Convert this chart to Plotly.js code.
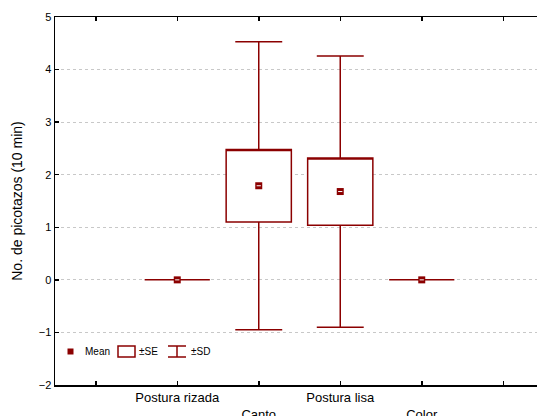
<!DOCTYPE html>
<html>
<head>
<meta charset="utf-8">
<script src="https://cdn.plot.ly/plotly-3.0.1.min.js"></script>
<style>
  html, body { margin: 0; padding: 0; overflow: hidden; background: #fff; }
  #chart { width: 560px; height: 430px; }
</style>
</head>
<body>
<div id="chart"></div>
<script>
// ---- data ----
const categories = ['Postura rizada', 'Canto', 'Postura lisa', 'Color'];
const means = [0, 1.79, 1.68, 0];
const se = [0, 0.69, 0.64, 0];
const sd = [0, 2.74, 2.58, 0];
const yTicks = [-2, -1, 0, 1, 2, 3, 4, 5];

const RED = '#8B0000';
const W = 560, H = 430;
const M = { l: 55, r: 16, t: 17, b: 45 };
const PW = W - M.l - M.r, PH = H - M.t - M.b;
const px = v => (v - M.l) / PW;       // pixel -> paper x (legend only)
const py = v => (H - M.b - v) / PH;   // pixel -> paper y (legend only)

const pos = categories.map((c, i) => i + 1);
const q1 = means.map((m, i) => m - se[i]);
const q3 = means.map((m, i) => m + se[i]);
const lo = means.map((m, i) => m - sd[i]);
const hi = means.map((m, i) => m + sd[i]);

const traces = [
  {
    type: 'box', x: pos, q1: q1, median: q3, q3: q3,
    lowerfence: lo, upperfence: hi,
    width: 0.8, whiskerwidth: 0.72, boxpoints: false,
    line: { color: RED, width: 1.5 }, fillcolor: 'white',
    hoverinfo: 'skip', showlegend: false
  },
  {
    type: 'scatter', mode: 'markers', x: pos, y: means,
    marker: { symbol: 'square', size: 7, color: RED, line: { width: 0 } },
    hoverinfo: 'skip', showlegend: false
  },
  {
    type: 'scatter', mode: 'markers', x: pos, y: means,
    marker: { symbol: 'line-ew', size: 3, color: 'white', line: { color: 'white', width: 1 } },
    hoverinfo: 'skip', showlegend: false
  }
];

const tickvals = [0].concat(pos, [categories.length + 1]);
const ticktext = [''].concat(categories.map((c, i) => (i % 2 ? '<br>' + c : c)), ['']);

// manual legend (paper coords)
const yc = 351.5;
const shapes = [
  { type: 'rect', xref: 'paper', yref: 'paper', x0: px(67.5), x1: px(73.5), y0: py(yc + 3), y1: py(yc - 3),
    fillcolor: RED, line: { width: 0 } },
  { type: 'rect', xref: 'paper', yref: 'paper', x0: px(118), x1: px(135), y0: py(357), y1: py(346),
    fillcolor: 'white', line: { color: RED, width: 1.5 } },
  { type: 'line', xref: 'paper', yref: 'paper', x0: px(168), x1: px(186), y0: py(346), y1: py(346),
    line: { color: RED, width: 1.5 } },
  { type: 'line', xref: 'paper', yref: 'paper', x0: px(168), x1: px(186), y0: py(357), y1: py(357),
    line: { color: RED, width: 1.5 } },
  { type: 'line', xref: 'paper', yref: 'paper', x0: px(177), x1: px(177), y0: py(346), y1: py(357),
    line: { color: RED, width: 1.5 } }
];
const lf = { family: 'Liberation Sans, Arial, sans-serif', size: 10, color: '#000' };
const annotations = [
  { text: 'Mean', x: px(83), xanchor: 'left' },
  { text: '±SE', x: px(137), xanchor: 'left' },
  { text: '±SD', x: px(189), xanchor: 'left' }
].map(a => Object.assign({ xref: 'paper', yref: 'paper', y: py(yc), yanchor: 'middle',
  showarrow: false, font: lf }, a));

const layout = {
  width: W, height: H,
  margin: M,
  paper_bgcolor: 'white', plot_bgcolor: 'white',
  font: { family: 'Liberation Sans, Arial, sans-serif', color: '#000' },
  showlegend: false,
  xaxis: {
    range: [-0.5, categories.length + 1.5],
    tickmode: 'array', tickvals: tickvals, ticktext: ticktext,
    ticks: 'inside', ticklen: 4, tickwidth: 1.5, tickcolor: '#000',
    showline: true, linecolor: '#000', linewidth: 1.5, mirror: 'ticks',
    showgrid: false, zeroline: false,
    tickfont: { size: 13 }
  },
  yaxis: {
    range: [-2, 5],
    tickmode: 'array', tickvals: yTicks,
    ticks: 'inside', ticklen: 4, tickwidth: 1.5, tickcolor: '#000',
    showline: true, linecolor: '#000', linewidth: 1.5, mirror: 'ticks',
    showgrid: true, gridcolor: '#c8c8c8', griddash: 'dot', gridwidth: 1,
    zeroline: false,
    tickfont: { size: 11 },
    title: { text: 'No. de picotazos (10 min)', font: { size: 14 }, standoff: 13 }
  },
  shapes: shapes,
  annotations: annotations
};

Plotly.newPlot('chart', traces, layout, { staticPlot: true, displayModeBar: false });
</script>
</body>
</html>
